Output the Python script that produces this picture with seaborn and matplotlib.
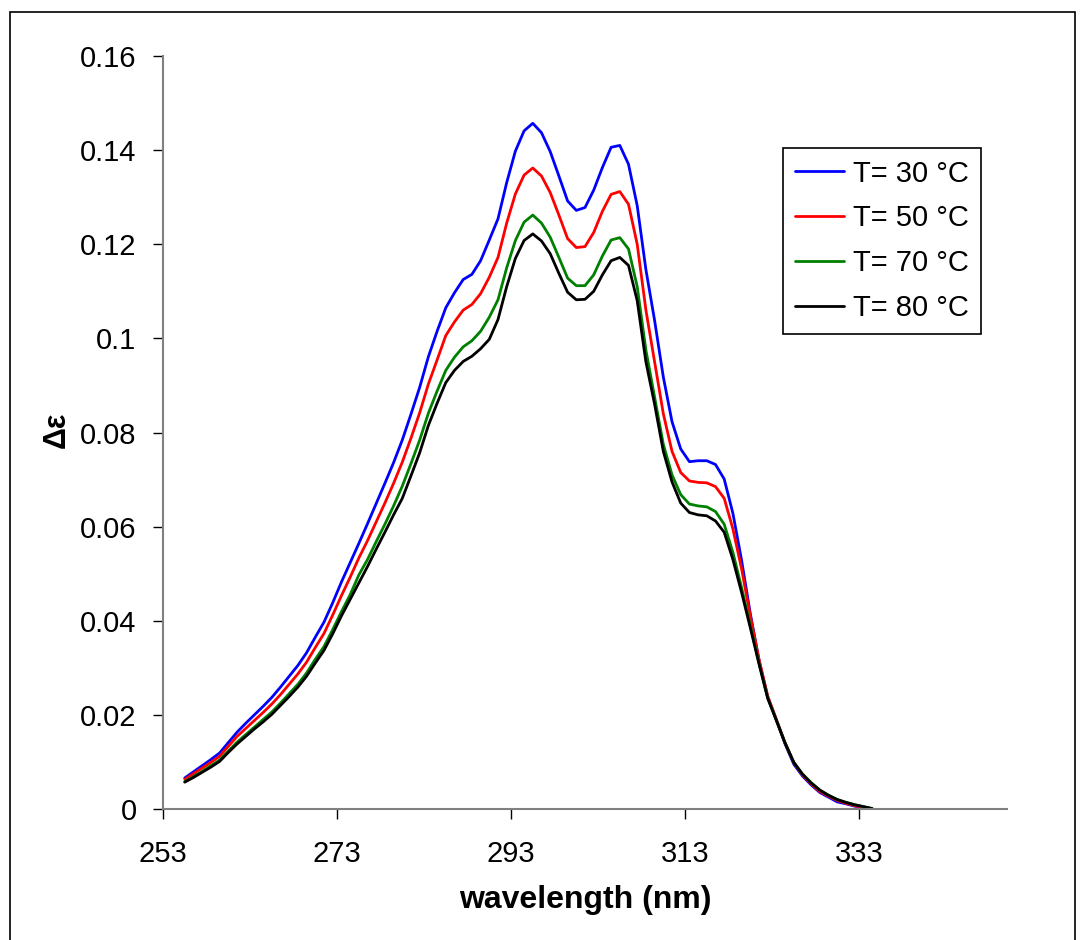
import numpy as np
import pandas as pd
import matplotlib
matplotlib.use("Agg")
import matplotlib.pyplot as plt
import seaborn as sns
from matplotlib.patches import Rectangle

# ---- data ----
wavelength = np.arange(255.5, 335.0, 1.0)

t30 = [0.0066, 0.0079, 0.0092, 0.0105, 0.0119, 0.0141, 0.0163, 0.0182, 0.0200, 0.0218,
       0.0237, 0.0259, 0.0282, 0.0305, 0.0332, 0.0365, 0.0397, 0.0438, 0.0482, 0.0523,
       0.0564, 0.0606, 0.0649, 0.0692, 0.0736, 0.0784, 0.0839, 0.0896, 0.0961, 0.1015,
       0.1065, 0.1097, 0.1125, 0.1136, 0.1165, 0.1209, 0.1254, 0.1331, 0.1398, 0.1441,
       0.1457, 0.1437, 0.1397, 0.1345, 0.1292, 0.1272, 0.1278, 0.1315, 0.1363, 0.1406,
       0.1410, 0.1370, 0.1282, 0.1146, 0.1038, 0.0918, 0.0823, 0.0765, 0.0738, 0.0740,
       0.0740, 0.0732, 0.0701, 0.0628, 0.0528, 0.0415, 0.0316, 0.0238, 0.0189, 0.0138,
       0.0095, 0.0070, 0.0051, 0.0035, 0.0025, 0.0015, 0.0011, 0.0006, 0.0003, 0.0000]

t50 = [0.0063, 0.0075, 0.0087, 0.0099, 0.0112, 0.0133, 0.0154, 0.0171, 0.0188, 0.0205,
       0.0223, 0.0243, 0.0265, 0.0287, 0.0312, 0.0343, 0.0373, 0.0412, 0.0453, 0.0492,
       0.0533, 0.0570, 0.0610, 0.0650, 0.0692, 0.0737, 0.0788, 0.0842, 0.0903, 0.0954,
       0.1006, 0.1035, 0.1060, 0.1072, 0.1095, 0.1130, 0.1172, 0.1245, 0.1307, 0.1347,
       0.1362, 0.1345, 0.1310, 0.1262, 0.1212, 0.1193, 0.1195, 0.1225, 0.1270, 0.1306,
       0.1312, 0.1285, 0.1200, 0.1060, 0.0950, 0.0840, 0.0760, 0.0715, 0.0697, 0.0694,
       0.0693, 0.0685, 0.0660, 0.0595, 0.0510, 0.0410, 0.0318, 0.0240, 0.0190, 0.0140,
       0.0098, 0.0072, 0.0053, 0.0037, 0.0027, 0.0018, 0.0012, 0.0007, 0.0003, 0.0000]

t70 = [0.0058, 0.0069, 0.0080, 0.0092, 0.0104, 0.0123, 0.0142, 0.0158, 0.0174, 0.0190,
       0.0206, 0.0225, 0.0245, 0.0265, 0.0289, 0.0318, 0.0345, 0.0381, 0.0419, 0.0455,
       0.0497, 0.0530, 0.0568, 0.0605, 0.0644, 0.0686, 0.0734, 0.0784, 0.0841, 0.0888,
       0.0932, 0.0960, 0.0982, 0.0995, 0.1015, 0.1045, 0.1082, 0.1150, 0.1208, 0.1247,
       0.1262, 0.1245, 0.1215, 0.1172, 0.1128, 0.1112, 0.1112, 0.1135, 0.1175, 0.1209,
       0.1214, 0.1190, 0.1110, 0.0975, 0.0875, 0.0775, 0.0710, 0.0668, 0.0648, 0.0644,
       0.0642, 0.0632, 0.0605, 0.0545, 0.0470, 0.0390, 0.0310, 0.0236, 0.0188, 0.0140,
       0.0099, 0.0074, 0.0056, 0.0040, 0.0029, 0.0020, 0.0014, 0.0009, 0.0005, 0.0001]

t80 = [0.0057, 0.0067, 0.0078, 0.0089, 0.0101, 0.0120, 0.0138, 0.0154, 0.0170, 0.0185,
       0.0201, 0.0220, 0.0239, 0.0259, 0.0282, 0.0310, 0.0337, 0.0372, 0.0410, 0.0445,
       0.0480, 0.0515, 0.0552, 0.0588, 0.0625, 0.0660, 0.0708, 0.0757, 0.0815, 0.0862,
       0.0906, 0.0932, 0.0951, 0.0962, 0.0978, 0.0998, 0.1040, 0.1110, 0.1170, 0.1208,
       0.1222, 0.1207, 0.1180, 0.1138, 0.1098, 0.1082, 0.1083, 0.1100, 0.1135, 0.1165,
       0.1172, 0.1155, 0.1080, 0.0950, 0.0860, 0.0760, 0.0695, 0.0650, 0.0630, 0.0625,
       0.0623, 0.0612, 0.0588, 0.0530, 0.0460, 0.0385, 0.0308, 0.0235, 0.0188, 0.0140,
       0.0099, 0.0074, 0.0055, 0.0040, 0.0029, 0.0020, 0.0014, 0.0009, 0.0005, 0.0001]

series_labels = ["T= 30 °C", "T= 50 °C", "T= 70 °C", "T= 80 °C"]
series_values = [t30, t50, t70, t80]
series_colors = ["#0000FF", "#FF0000", "#008000", "#000000"]

x_ticks = [253, 273, 293, 313, 333]
y_ticks = [0, 0.02, 0.04, 0.06, 0.08, 0.1, 0.12, 0.14, 0.16]
y_tick_labels = ["0", "0.02", "0.04", "0.06", "0.08", "0.1", "0.12", "0.14", "0.16"]

df = pd.concat(
    [pd.DataFrame({"wavelength": wavelength, "de": vals, "T": lab})
     for lab, vals in zip(series_labels, series_values)],
    ignore_index=True)

# ---- plot ----
sns.set_theme(style="white")
plt.rcParams["font.family"] = ["Liberation Sans", "DejaVu Sans"]
plt.rcParams["text.color"] = "black"
plt.rcParams["axes.labelcolor"] = "black"

fig = plt.figure(figsize=(10.8, 9.4), dpi=100)
ax = fig.add_axes([163 / 1080, 131 / 940, 844 / 1080, 753 / 940])

sns.lineplot(data=df, x="wavelength", y="de", hue="T", palette=series_colors,
             hue_order=series_labels, linewidth=2.0, ax=ax, estimator=None, sort=False)

ax.set_xlim(253, 350)
ax.set_ylim(0, 0.16)
ax.set_xticks(x_ticks)
ax.set_xticklabels([str(t) for t in x_ticks])
ax.set_yticks(y_ticks)
ax.set_yticklabels(y_tick_labels)

for side in ["top", "right"]:
    ax.spines[side].set_visible(False)
for side in ["left", "bottom"]:
    ax.spines[side].set_color("#808080")
    ax.spines[side].set_linewidth(1.5)

ax.tick_params(axis="both", which="major", direction="out", length=7, width=1.0,
               color="black", labelsize=21, labelcolor="black")
ax.tick_params(axis="y", pad=12)
ax.tick_params(axis="x", pad=15)
ax.tick_params(left=True, bottom=True)

ax.set_xlabel("wavelength (nm)", fontsize=23, fontweight="bold", color="black")
ax.set_ylabel("Δε", fontsize=22, fontweight="bold", color="black")
ax.xaxis.label.set_va("center")
ax.yaxis.label.set_va("center")
ax.xaxis.set_label_coords(0.5, (809 - 900) / 753)
ax.yaxis.set_label_coords((57 - 163) / 844, (809 - 430) / 753)

leg = ax.legend(loc="upper left", bbox_to_anchor=(0.7346, 0.878), fontsize=21,
                frameon=True, fancybox=False, shadow=False, framealpha=1,
                edgecolor="black", handlelength=1.7, handletextpad=0.3,
                labelspacing=0.58, borderpad=0.4, borderaxespad=0)
leg.get_frame().set_linewidth(1.2)
for line in leg.get_lines():
    line.set_linewidth(2.0)
for txt in leg.get_texts():
    txt.set_color("black")

# outer chart border
fig.patches.append(Rectangle((10 / 1080, -0.05), 1065 / 1080, 1.05 - 12 / 940,
                             transform=fig.transFigure, fill=False,
                             edgecolor="black", linewidth=1.2))

fig.savefig("out.png", dpi=100)
